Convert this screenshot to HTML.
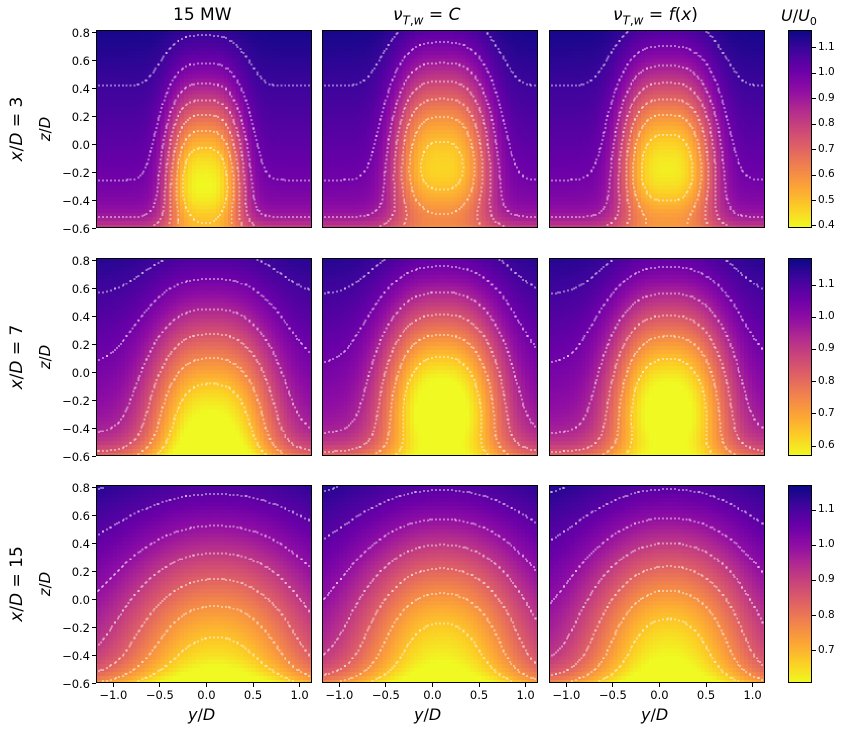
<!DOCTYPE html>
<html><head><meta charset="utf-8"><style>
body{margin:0;background:#fff;width:842px;height:731px;position:relative;overflow:hidden;font-family:"DejaVu Sans","Liberation Sans",sans-serif;color:#000}
.t{position:absolute;white-space:nowrap;font-size:11.5px}
canvas{position:absolute;border:1px solid #000;box-sizing:border-box;image-rendering:pixelated}
.tk{position:absolute;background:#000}
.rot{position:absolute;transform:translate(-50%,-50%) rotate(-90deg);white-space:nowrap}
i{font-family:"DejaVu Sans",sans-serif;font-style:oblique}
</style></head><body>
<div class="t" style="left:173px;top:5px;font-size:17px">15 MW</div>
<div class="t" style="left:393px;top:5px;font-size:17px"><i>ν</i><sub style="font-size:12px"><i>T</i>,<i>w</i></sub> = <i>C</i></div>
<div class="t" style="left:613px;top:5px;font-size:17px"><i>ν</i><sub style="font-size:12px"><i>T</i>,<i>w</i></sub> = <i>f</i>(<i>x</i>)</div>
<div class="t" style="left:781px;top:6px;font-size:16px"><i>U</i>/<i>U</i><sub style="font-size:11px">0</sub></div>
<div id="c"></div>
<script>
const P=[[13,8,135],[65,4,157],[106,0,168],[143,13,164],[177,42,144],[204,71,120],[225,100,98],[242,132,75],[252,166,54],[252,206,37],[240,249,33]];
function cm(t){t=Math.max(0,Math.min(1,t));const f=t*10,i=Math.min(9,Math.floor(f)),r=f-i;return P[i].map((a,k)=>Math.round(a+(P[i+1][k]-a)*r));}
const cols=[96,322,549],rows=[30,258,485],W=216,H=198;
const rng=[[0.392,1.17],[0.569,1.184],[0.609,1.171]];
const lv=[[0.5,0.6,0.7,0.8,0.9,1.0,1.1],[0.65,0.75,0.85,0.95,1.05,1.12],[0.68,0.76,0.84,0.92,1.0,1.08,1.14]];
// yc,zc,sy,szUp,szLow,d,py
const par=[
[[-0.02,-0.28,0.33,0.47,0.33,0.6,3],[0.1,-0.15,0.42,0.52,0.36,0.56,3],[0.08,-0.17,0.41,0.5,0.36,0.6,3]],
[[0.05,-0.45,0.52,0.6,0.45,0.42,2.6],[0.1,-0.25,0.5,0.55,0.42,0.48,2.6],[0.1,-0.25,0.49,0.55,0.42,0.47,2.6]],
[[0.1,-0.55,0.75,0.7,0.5,0.3,2.2],[0.1,-0.42,0.68,0.65,0.5,0.34,2.2],[0.1,-0.42,0.66,0.65,0.5,0.35,2.2]]];
function Uinf(z){return 1.04+0.14*z-0.15*Math.exp(-(z+0.6)/0.1);}
function U(r,c,y,z){const p=par[r][c];const dy=Math.abs((y-p[0])/p[2]);const dz=(z-p[1])/(z<p[1]?p[4]:p[3]);const q=Math.pow(dy,p[6])+dz*dz;const f=p[5]/Uinf(p[1]);return Uinf(z)*(1-f*Math.exp(-0.5*q));}
const X=px=>-1.186+px/W*(1.133+1.186), Z=py=>0.821-py/H*(0.821+0.595);
const C=document.getElementById('c');
function add(h){C.insertAdjacentHTML('beforeend',h);}
for(let r=0;r<3;r++)for(let c=0;c<3;c++){
 const cv=document.createElement('canvas');cv.width=W;cv.height=H;cv.style.left=cols[c]+'px';cv.style.top=rows[r]+'px';cv.style.width=W+'px';cv.style.height=H+'px';C.appendChild(cv);
 const g=cv.getContext('2d');const [a,b]=rng[r];
 for(let py=0;py<H;py+=4)for(let px=0;px<W;px+=4){const u=U(r,c,X(px+2),Z(py+2));const col=cm((b-u)/(b-a));g.fillStyle=`rgb(${col})`;g.fillRect(px,py,4,4);}
 g.fillStyle='#fff';
 for(const L of lv[r]){
  for(let py=2;py<H;py+=4){let prev=U(r,c,X(0),Z(py))-L;for(let px=1;px<W;px++){const v=U(r,c,X(px),Z(py))-L;if(v*prev<0){g.beginPath();g.arc(px,py,0.8,0,7);g.fill();}prev=v;}}
  for(let px=2;px<W;px+=4){let prev=U(r,c,X(px),Z(0))-L;for(let py=1;py<H;py++){const v=U(r,c,X(px),Z(py))-L;if(v*prev<0){g.beginPath();g.arc(px,py,0.8,0,7);g.fill();}prev=v;}}
 }
 if(c==0){const cb=document.createElement('canvas');cb.width=24;cb.height=H;cb.style.left='788px';cb.style.top=rows[r]+'px';cb.style.width='24px';cb.style.height=H+'px';C.appendChild(cb);const q=cb.getContext('2d');for(let py=0;py<H;py++){const col=cm(py/H);q.fillStyle=`rgb(${col})`;q.fillRect(0,py,24,1);}
  const s=Math.round(a*10+0.5)/10;for(let v=s;v<=b+1e-9;v+=0.1){const y=rows[r]+(b-v)/(b-a)*H;add(`<div class="tk" style="left:812px;top:${y-0.5}px;width:4px;height:1px"></div><div class="t" style="left:818px;top:${y-7}px;font-size:10.5px">${v.toFixed(1)}</div>`);}}
}
const zt=[0.8,0.6,0.4,0.2,0.0,-0.2,-0.4,-0.6];
for(let r=0;r<3;r++){for(const z of zt){const y=rows[r]+(0.821-z)/(0.821+0.595)*H;const s=z<0?'−'+(-z).toFixed(1):z.toFixed(1);add(`<div class="tk" style="left:92px;top:${y-0.5}px;width:4px;height:1px"></div><div class="t" style="right:${842-90}px;top:${y-7}px">${s}</div>`);}
 const cy=rows[r]+H/2;add(`<div class="rot" style="left:17px;top:${cy}px;font-size:17px"><i>x</i>/<i>D</i> = ${[3,7,15][r]}</div><div class="rot" style="left:45px;top:${cy}px;font-size:15px"><i>z</i>/<i>D</i></div>`);}
for(let c=0;c<3;c++){for(const y0 of [-1,-0.5,0,0.5,1]){const x=cols[c]+(y0+1.186)/(1.133+1.186)*W;const s=y0<0?'−'+(-y0).toFixed(1):y0.toFixed(1);add(`<div class="tk" style="left:${x-0.5}px;top:683px;width:1px;height:4px"></div><div class="t" style="left:${x-15}px;top:688px;width:30px;text-align:center">${s}</div>`);}
 add(`<div class="t" style="left:${cols[c]+W/2-16}px;top:705px;font-size:16px"><i>y</i>/<i>D</i></div>`);}
</script>
</body></html>
